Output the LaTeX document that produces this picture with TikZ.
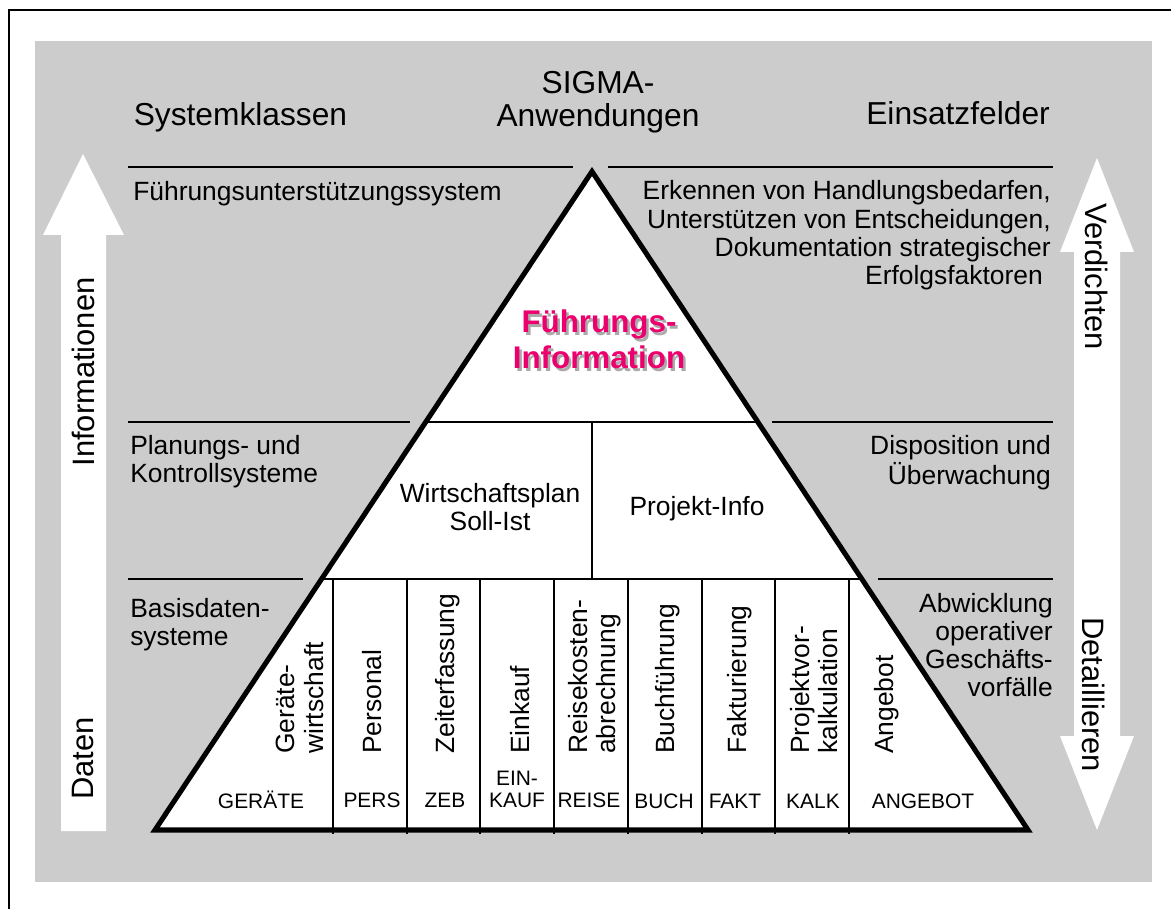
\documentclass[tikz,border=0pt]{standalone}
\usepackage{fontspec}
\setmainfont{Liberation Sans}
\usetikzlibrary{calc}

\definecolor{panelgrey}{RGB}{204,204,204}
\definecolor{leadpink}{RGB}{235,0,110}
\definecolor{shadowgrey}{RGB}{170,170,170}

% line stacks whose baseline is that of the first line
\newcommand{\ltab}[1]{\begin{tabular}[t]{@{}l@{}}#1\end{tabular}}
\newcommand{\rtab}[1]{\begin{tabular}[t]{@{}r@{}}#1\end{tabular}}
\newcommand{\ctab}[1]{\begin{tabular}[t]{@{}c@{}}#1\end{tabular}}

\tikzset{
  hdr/.style={inner sep=0pt, font=\fontsize{23.8}{24.75}\selectfont},
  body/.style={inner sep=0pt, font=\fontsize{19.8}{21.2}\selectfont},
  small/.style={inner sep=0pt, font=\fontsize{15.7}{16.5}\selectfont},
  arrtext/.style={inner sep=0pt, font=\fontsize{23.2}{24}\selectfont},
  lead/.style={inner sep=0pt, font=\fontsize{23.5}{27}\selectfont\bfseries},
  collabel/.style={body, rotate=90, anchor=west, align=left},
  thinline/.style={line width=1.5pt},
  thickline/.style={line width=3.8pt, line join=miter},
  bigarrow/.style={fill=white, draw=none},
}

\begin{document}
\begin{tikzpicture}[x=0.75pt, y=-0.75pt]
\useasboundingbox (0,0) rectangle (1171,909);

% frame and grey panel
\draw[line width=1.5pt] (9,909) -- (9,10) -- (1171,10);
\fill[panelgrey] (35,41) rectangle (1152,882);

% left arrow: data -> information
\fill[bigarrow] (61,831) -- (61,235) -- (43,235) -- (83,154) -- (124,235)
  -- (106,235) -- (106,831) -- cycle;
% right double arrow: condense / detail
\fill[bigarrow] (1097,158) -- (1134,252) -- (1120,252) -- (1120,736) -- (1134,736)
  -- (1097,830) -- (1060,736) -- (1074,736) -- (1074,252) -- (1060,252) -- cycle;

% separator lines of the three levels
\draw[thinline] (128,167) -- (573,167);
\draw[thinline] (608,167) -- (1053,167);
\draw[thinline] (128,422) -- (410,422);
\draw[thinline] (772,422) -- (1053,422);
\draw[thinline] (128,579) -- (303,579);
\draw[thinline] (878,579) -- (1053,579);

% pyramid
\coordinate (A) at (592,171.5);
\coordinate (L) at (155,830);
\coordinate (R) at (1028,830);
\coordinate (L1) at ($(A)!0.38041!(L)$);
\coordinate (R1) at ($(A)!0.38041!(R)$);
\coordinate (L2) at ($(A)!0.61883!(L)$);
\coordinate (R2) at ($(A)!0.61883!(R)$);
\fill[white] (A) -- (L) -- (R) -- cycle;
\draw[thinline] (L1) -- (R1);
\draw[thinline] (L2) -- (R2);
\draw[thinline] (592,422) -- (592,579);
\foreach \x in {333,407,480,554,628,702,775,849}
  \draw[thinline] (\x,579) -- (\x,834);
\draw[thickline] (A) -- (L) -- (R) -- cycle;

% headings
\node[hdr, anchor=base west] (syskl) at (133.5,126) {Systemklassen};
\node[hdr, anchor=base] (sigma) at (598,94) {\ctab{SIGMA-\\Anwendungen}};
\node[hdr, anchor=base east] (einsatz) at (1050,125) {Einsatzfelder};

% top level
\node[body, anchor=base west] (fus) at (133,201) {Führungsunterstützungssystem};
\node[body, anchor=base east] (fususe) at (1051,200)
  {\rtab{Erkennen von Handlungsbedarfen,\\Unterstützen von Entscheidungen,\\Dokumentation strategischer\\Erfolgsfaktoren\hspace*{6pt}}};
\node[lead, text=shadowgrey, anchor=base] (fishadow) at (601.5,335.5) {\ctab{Führungs-\\Information}};
\node[lead, text=leadpink, anchor=base] (fi) at (599,333) {\ctab{Führungs-\\Information}};

% middle level
\node[body, anchor=base west] (pks) at (130,454) {\ltab{Planungs- und\\Kontrollsysteme}};
\node[body, anchor=base east] (pksuse) at (1051,454) {\rtab{Disposition und\\Überwachung}};
\node[body, anchor=base] (wp) at (490,502) {\ctab{Wirtschaftsplan\\Soll-Ist}};
\node[body, anchor=base] (pi) at (697,515) {Projekt-Info};

% base level
\node[body, anchor=base west] (bds) at (130,617) {\ltab{Basisdaten-\\systeme}};
\node[body, anchor=base east] (bdsuse) at (1053,612)
  {\rtab{Abwicklung\\operativer\\Geschäfts-\\vorfälle}};

% application columns
\node[collabel] (c1) at (300,754) {Geräte-\\wirtschaft};
\node[collabel] (c2) at (372,754) {Personal};
\node[collabel] (c3) at (448,754) {Zeiterfassung};
\node[collabel] (c4) at (520,754) {Einkauf};
\node[collabel] (c5) at (595,754) {Reisekosten-\\abrechnung};
\node[collabel] (c6) at (668,754) {Buchführung};
\node[collabel] (c7) at (740,754) {Fakturierung};
\node[collabel] (c8) at (814,754) {Projektvor-\\kalkulation};
\node[collabel] (c9) at (887,754) {Angebot};

\node[small, anchor=base] (k1) at (261,808) {GERÄTE};
\node[small, anchor=base] (k2) at (372,807) {PERS};
\node[small, anchor=base] (k3) at (445,807) {ZEB};
\node[small, anchor=base] (k4) at (517,785) {\ctab{EIN-\\KAUF}};
\node[small, anchor=base] (k5) at (589,807) {REISE};
\node[small, anchor=base] (k6) at (664,808) {BUCH};
\node[small, anchor=base] (k7) at (735,808) {FAKT};
\node[small, anchor=base] (k8) at (813,808) {KALK};
\node[small, anchor=base] (k9) at (923,808) {ANGEBOT};

% arrow captions
\node[arrtext, rotate=90, anchor=center] (info) at (83,372) {Informationen};
\node[arrtext, rotate=90, anchor=west] (daten) at (83,800) {Daten};
\node[arrtext, rotate=-90, anchor=west] (verd) at (1097,203) {Verdichten};
\node[arrtext, rotate=-90, anchor=west] (detail) at (1094,617) {Detaillieren};
\end{tikzpicture}
\end{document}
